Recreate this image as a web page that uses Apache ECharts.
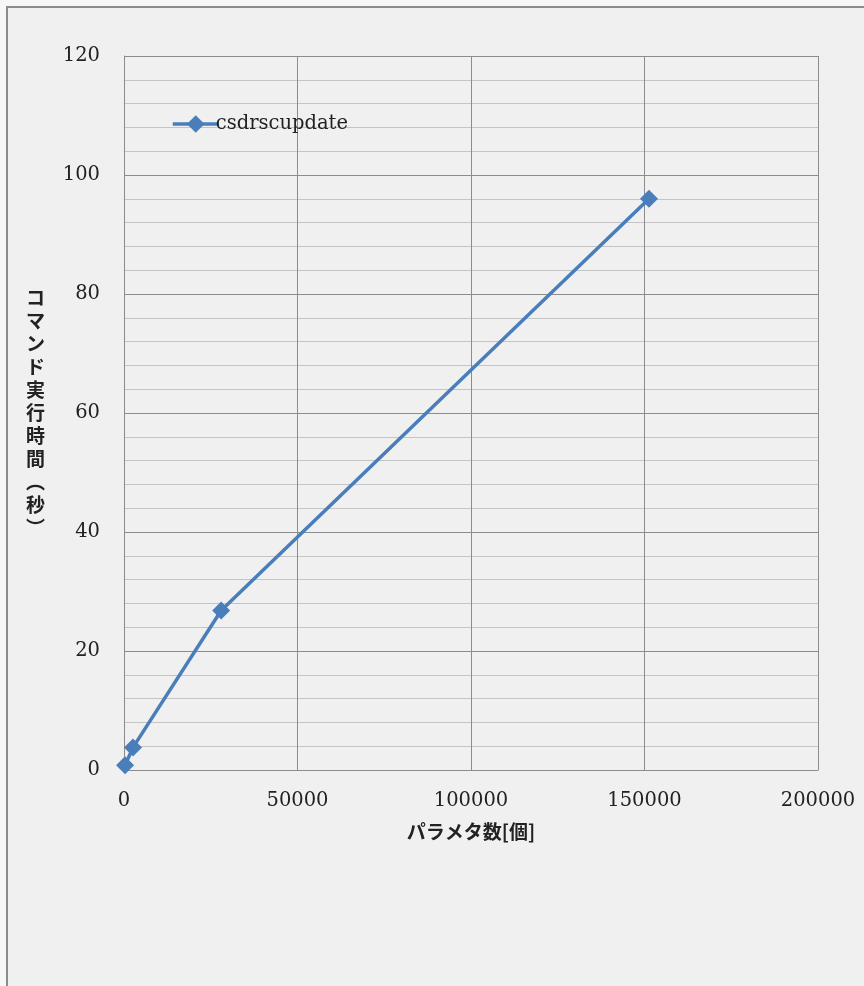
<!DOCTYPE html>
<html>
<head>
<meta charset="utf-8">
<script src="https://cdn.jsdelivr.net/npm/echarts@6/dist/echarts.min.js"></script>
<style>
  html, body { margin: 0; padding: 0; background: #f7f7f7; }
  #chart { width: 864px; height: 986px; }
</style>
</head>
<body>
<div id="chart"></div>
<script>
// Parameter count vs. command execution time for csdrscupdate
const seriesName = 'csdrscupdate';
const paramCounts = [300, 2600, 28000, 151300];
const execSeconds = [0.8, 3.8, 26.8, 96.0];
const xTicks = [0, 50000, 100000, 150000, 200000];
const yTicks = [0, 20, 40, 60, 80, 100, 120];
const xTitle = 'パラメタ数[個]';
const yTitle = ['コ', 'マ', 'ン', 'ド', '実', '行', '時', '間', '︵', '秒', '︶'];

const serif = '"DejaVu Serif", "Liberation Serif", serif';
const cjk = '"Noto Sans CJK JP", sans-serif';

const chart = echarts.init(document.getElementById('chart'), null, { renderer: 'canvas' });

chart.setOption({
  backgroundColor: '#f7f7f7',
  animation: false,
  graphic: [
    { type: 'rect', shape: { x: 7, y: 7, width: 870, height: 990 }, style: { fill: '#f0f0f0' }, z: -10 },
    { type: 'line', shape: { x1: 7, y1: 6, x2: 7, y2: 986 }, style: { stroke: '#8c8c8c', lineWidth: 2 }, z: -5 },
    { type: 'line', shape: { x1: 6, y1: 7, x2: 864, y2: 7 }, style: { stroke: '#8c8c8c', lineWidth: 2 }, z: -5 }
  ],
  grid: { left: 124, top: 56, right: 46, bottom: 216, containLabel: false },
  legend: {
    left: 166, top: 109,
    itemWidth: 46, itemHeight: 22, itemGap: 4,
    lineStyle: { width: 3.5 },
    textStyle: { fontFamily: serif, fontSize: 19.5, color: '#222', padding: [0, 0, 0, -8] },
    data: [seriesName]
  },
  xAxis: {
    type: 'value',
    min: xTicks[0], max: xTicks[xTicks.length - 1], interval: xTicks[1] - xTicks[0],
    name: xTitle, nameLocation: 'middle', nameGap: 52,
    nameTextStyle: { fontFamily: cjk, fontSize: 19, fontWeight: 'bold', color: '#222' },
    axisLine: { show: true, lineStyle: { color: '#8c8c8c', width: 1 } },
    axisTick: { show: false },
    axisLabel: { fontFamily: serif, fontSize: 19.5, color: '#222', margin: 21, formatter: v => String(v) },
    splitLine: { show: true, lineStyle: { color: '#8c8c8c', width: 1 } }
  },
  yAxis: {
    type: 'value',
    min: yTicks[0], max: yTicks[yTicks.length - 1], interval: yTicks[1] - yTicks[0],
    name: yTitle.join('\n'), nameLocation: 'middle', nameGap: 79, nameRotate: 0,
    nameTextStyle: { fontFamily: cjk, fontSize: 19, fontWeight: 'bold', color: '#222', lineHeight: 23 },
    axisLine: { show: true, lineStyle: { color: '#8c8c8c', width: 1 } },
    axisTick: { show: false },
    axisLabel: { fontFamily: serif, fontSize: 19.5, color: '#222', margin: 24, formatter: v => String(v) },
    splitLine: { show: true, lineStyle: { color: '#8c8c8c', width: 1 } },
    minorTick: { show: false, splitNumber: 5 },
    minorSplitLine: { show: true, lineStyle: { color: '#c4c4c4', width: 1 } }
  },
  series: [{
    name: seriesName,
    type: 'line',
    data: paramCounts.map((x, i) => [x, execSeconds[i]]),
    symbol: 'diamond',
    symbolSize: 18,
    lineStyle: { color: '#4a7ebb', width: 3.5 },
    itemStyle: { color: '#4a7ebb' }
  }]
});
</script>
</body>
</html>
